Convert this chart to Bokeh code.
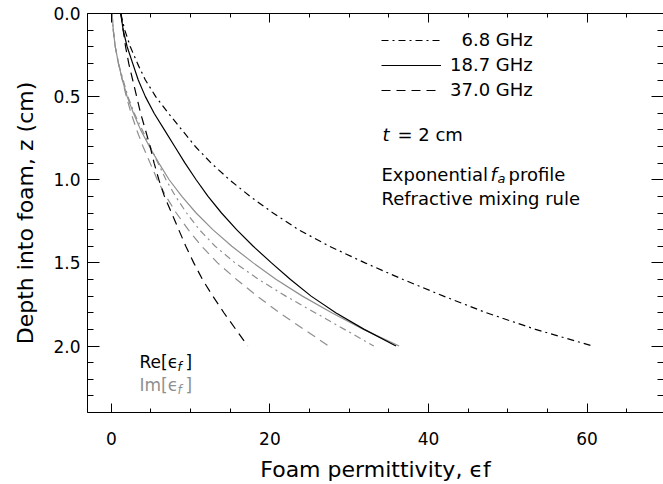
from bokeh.plotting import figure
from bokeh.models import (Range1d, LinearAxis, FixedTicker, PrintfTickFormatter,
                          CustomJSTickFormatter, Label, Legend, LegendItem)
from bokeh.embed import file_html
from bokeh.resources import INLINE

# ---------------- data ----------------
depth = [0.0, 0.1, 0.2, 0.3, 0.4, 0.5, 0.6, 0.7, 0.8, 0.9, 1.0,
         1.1, 1.2, 1.3, 1.4, 1.5, 1.6, 1.7, 1.8, 1.9, 2.0]

re_6_8 = [1.2, 1.7, 2.4, 3.3, 4.3, 5.6, 7.2, 8.9, 10.6, 12.6, 14.9,
          17.5, 20.4, 23.6, 27.5, 32.0, 36.8, 41.9, 47.3, 53.5, 60.7]
im_6_8 = [0.1, 0.25, 0.5, 0.9, 1.5, 2.1, 2.9, 3.9, 4.9, 5.9, 6.9,
          8.1, 9.5, 11.1, 13.1, 15.6, 18.6, 22.0, 25.7, 29.4, 33.1]

re_18_7 = [1.2, 1.5, 2.0, 2.7, 3.4, 4.3, 5.4, 6.7, 8.0, 9.3, 10.7,
           12.2, 13.9, 15.8, 17.9, 20.2, 22.6, 25.2, 28.3, 31.9, 35.9]
im_18_7 = [0.1, 0.25, 0.5, 0.9, 1.4, 2.0, 2.8, 3.7, 4.8, 6.0, 7.3,
           8.9, 10.7, 12.8, 15.2, 17.9, 20.8, 24.1, 27.8, 31.8, 36.3]

re_37_0 = [1.2, 1.5, 1.8, 2.2, 2.7, 3.2, 3.7, 4.3, 4.9, 5.4, 6.0,
           6.7, 7.6, 8.5, 9.4, 10.4, 11.5, 12.8, 14.2, 15.7, 17.2]
im_37_0 = [0.1, 0.25, 0.5, 0.9, 1.4, 1.9, 2.5, 3.2, 4.0, 4.9, 5.8,
           6.9, 8.2, 9.7, 11.4, 13.4, 15.8, 18.4, 21.2, 24.3, 27.4]

freq_labels = ["6.8 GHz", "18.7 GHz", "37.0 GHz"]
x_ticks = [0, 20, 40, 60]
x_minor = [0, 5, 10, 15, 20, 25, 30, 35, 40, 45, 50, 55, 60, 65, 70]
y_ticks = [0.0, 0.5, 1.0, 1.5, 2.0]
y_minor = [round(0.1 * i, 1) for i in range(25)]

x_title = "Foam permittivity, \u03f5f"
y_title = "Depth into foam, z (cm)"

# ---------------- styling ----------------
FONT = "DejaVu Sans"
GRAY = "#8f8f8f"
DASHES = {"6.8 GHz": "7 4 2 4", "18.7 GHz": "solid", "37.0 GHz": "9 6"}
LW = 1.2

W, H = 663, 484
BL, BR, BT, BB = 87, 0, 13, 63
PX_PER_UNIT = 7.93
x_lo = -3
x_hi = x_lo + (W - BL - BR) / PX_PER_UNIT

p = figure(width=W, height=H, x_range=Range1d(x_lo, x_hi), y_range=Range1d(2.4, 0),
           output_backend="svg", toolbar_location=None,
           min_border_left=BL, min_border_right=BR, min_border_top=BT, min_border_bottom=BB,
           background_fill_color="white", border_fill_color="white")
p.grid.visible = False
p.outline_line_color = None

def style_axis(ax, ticker, fmt, tick_major, tick_minor, labels=True, standoff=7):
    ax.ticker = ticker
    ax.axis_line_color = "black"
    ax.axis_line_width = 1
    ax.major_tick_line_color = "black"
    ax.minor_tick_line_color = "black"
    ax.major_tick_in = tick_major
    ax.major_tick_out = 0
    ax.minor_tick_in = tick_minor
    ax.minor_tick_out = 0
    if labels:
        ax.formatter = fmt
        ax.major_label_text_font = FONT
        ax.major_label_text_font_size = "17px"
        ax.major_label_text_color = "black"
        ax.major_label_standoff = standoff
    else:
        ax.formatter = CustomJSTickFormatter(code="return ''")
        ax.major_label_text_font_size = "0px"
        ax.major_label_standoff = 0
        ax.axis_label = None

xt = FixedTicker(ticks=x_ticks, minor_ticks=x_minor)
yt = FixedTicker(ticks=y_ticks, minor_ticks=y_minor)

xa = p.xaxis[0]
ya = p.yaxis[0]
style_axis(xa, xt, PrintfTickFormatter(format="%d"), 9, 4, True, 19)
style_axis(ya, yt, PrintfTickFormatter(format="%.1f"), 12, 6, True, 7)
for ax, title, standoff in ((xa, x_title, 9), (ya, y_title, 12)):
    ax.axis_label = title
    ax.axis_label_text_font = FONT
    ax.axis_label_text_font_size = "22px"
    ax.axis_label_text_font_style = "normal"
    ax.axis_label_text_color = "black"
    ax.axis_label_standoff = standoff

top = LinearAxis()
style_axis(top, FixedTicker(ticks=x_ticks, minor_ticks=x_minor), None, 9, 4, False)
p.add_layout(top, "above")
right = LinearAxis()
style_axis(right, FixedTicker(ticks=y_ticks, minor_ticks=y_minor), None, 12, 6, False)
right.axis_line_color = None
p.add_layout(right, "right")

# ---------------- curves ----------------
series = [("6.8 GHz", re_6_8, im_6_8), ("18.7 GHz", re_18_7, im_18_7), ("37.0 GHz", re_37_0, im_37_0)]
re_renderers = {}
for name, re_vals, im_vals in series:
    p.line(im_vals, depth, line_color=GRAY, line_width=LW, line_dash=DASHES[name])
for name, re_vals, im_vals in series:
    re_renderers[name] = p.line(re_vals, depth, line_color="black", line_width=LW, line_dash=DASHES[name])

# ---------------- legend ----------------
FL, FB = BL, H - BB   # frame left / bottom in page pixels

legend_text = {"6.8 GHz": "\u20076.8 GHz", "18.7 GHz": "18.7 GHz", "37.0 GHz": "37.0 GHz"}
legend = Legend(items=[LegendItem(label=legend_text[n], renderers=[re_renderers[n]]) for n in freq_labels],
                location=(381 - FL, FB - 109), orientation="vertical",
                border_line_color=None, background_fill_alpha=0, padding=0, margin=0,
                spacing=4, glyph_width=60, glyph_height=20, label_height=20, label_standoff=9,
                label_text_font=FONT, label_text_font_size="18px", label_text_color="black")
p.add_layout(legend)

# ---------------- text annotations ----------------
def lab(text, px, py, size="18px", color="black", style="normal", align="left"):
    p.add_layout(Label(x=px - FL, y=FB - py, x_units="screen", y_units="screen", text=text,
                       text_font=FONT, text_font_size=size, text_color=color,
                       text_font_style=style, text_align=align, text_baseline="alphabetic"))

lab("t", 382, 143, style="italic")
lab("= 2 cm", 397, 143)
lab("Exponential", 381, 183)
lab("f", 490, 183, style="italic")
lab("a", 497, 187, size="13px", style="italic")
lab("profile", 508, 183)
lab("Refractive mixing rule", 381, 207)

lab("Re[\u03f5", 139, 370, size="17px")
lab("f", 177, 375, size="12px", style="italic")
lab("]", 185, 370, size="17px")
lab("Im[\u03f5", 139, 393, size="17px", color=GRAY)
lab("f", 177, 398, size="12px", style="italic", color=GRAY)
lab("]", 185, 393, size="17px", color=GRAY)

open("out.html", "w").write(file_html(p, INLINE))
